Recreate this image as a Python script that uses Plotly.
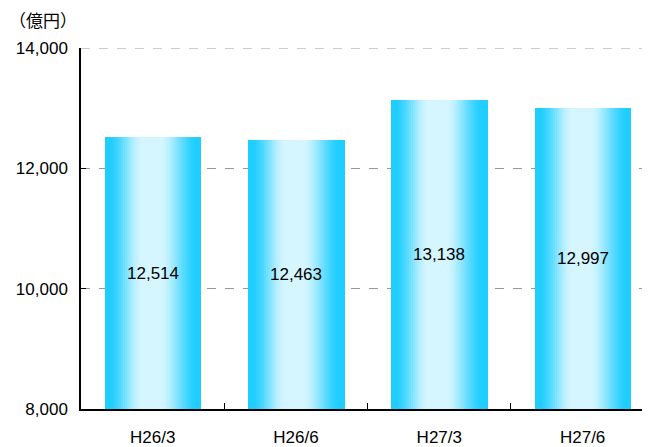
import plotly.graph_objects as go

# データ
periods = ['H26/3', 'H26/6', 'H27/3', 'H27/6']
amounts = [12514, 12463, 13138, 12997]
y_ticks = [8000, 10000, 12000, 14000]
y_tick_labels = ['8,000', '10,000', '12,000', '14,000']
y_base = 8000

fig = go.Figure()


def smooth(a, b, t):
    u = max(0.0, min(1.0, (t - a) / (b - a)))
    return u * u * (3 - 2 * u)


# 横方向のグラデーションを細い棒の重ね描きで表現
bar_w = 0.67
n_strips = 48
edge = (30, 206, 255)
mid = (214, 246, 255)
for i in range(n_strips):
    t = (i + 0.5) / n_strips
    k = smooth(0.03, 0.40, t) * (1 - smooth(0.56, 0.97, t))
    c = tuple(int(edge[j] + (mid[j] - edge[j]) * k) for j in range(3))
    fig.add_trace(go.Bar(
        x=periods,
        y=[v - y_base for v in amounts],
        base=y_base,
        width=bar_w / n_strips * 1.3,
        offset=-bar_w / 2 + i * bar_w / n_strips,
        marker=dict(color='rgb(%d,%d,%d)' % c, line=dict(width=0)),
        showlegend=False,
        hoverinfo='skip',
    ))

num_font = 'Liberation Sans'

# 値ラベル(棒の中央)
for p, v in zip(periods, amounts):
    fig.add_annotation(
        x=p, y=(y_base + v) / 2, text=f'{v:,}', showarrow=False,
        font=dict(family=num_font, size=17, color='#000000'),
    )

fig.add_annotation(
    x=-0.13, y=1.078, xref='paper', yref='paper', xanchor='left', yanchor='middle',
    text='（億円）', showarrow=False,
    font=dict(family='Noto Sans CJK JP', size=17, color='#000000'),
)

# 上端の破線(14,000)
fig.add_shape(
    type='line', xref='paper', yref='y', x0=0, x1=1, y0=14000, y1=14000,
    line=dict(color='#999999', width=1, dash='dash'), layer='below',
)

fig.update_layout(
    width=642, height=439,
    margin=dict(l=73, r=0, t=40, b=38),
    barmode='overlay',
    bargap=0,
    plot_bgcolor='white',
    paper_bgcolor='white',
    font=dict(family=num_font, size=17, color='#000000'),
    xaxis=dict(
        type='category', range=[-0.5, 3.47], automargin=False,
        showline=True, linecolor='#000000', linewidth=1.5,
        tickson='boundaries', ticks='inside', ticklen=6, tickcolor='#000000',
        showgrid=False, tickfont=dict(size=17), ticklabelstandoff=12,
    ),
    yaxis=dict(
        range=[8000, 14000], tickvals=y_ticks, ticktext=y_tick_labels, automargin=False,
        showline=True, linecolor='#000000', linewidth=1.5,
        showgrid=True, gridcolor='#999999', griddash='dash', gridwidth=1,
        zeroline=False, ticks='inside', ticklen=5, tickcolor='#000000',
        tickfont=dict(size=17), ticklabelstandoff=8,
    ),
)

fig.write_html('out.html')
